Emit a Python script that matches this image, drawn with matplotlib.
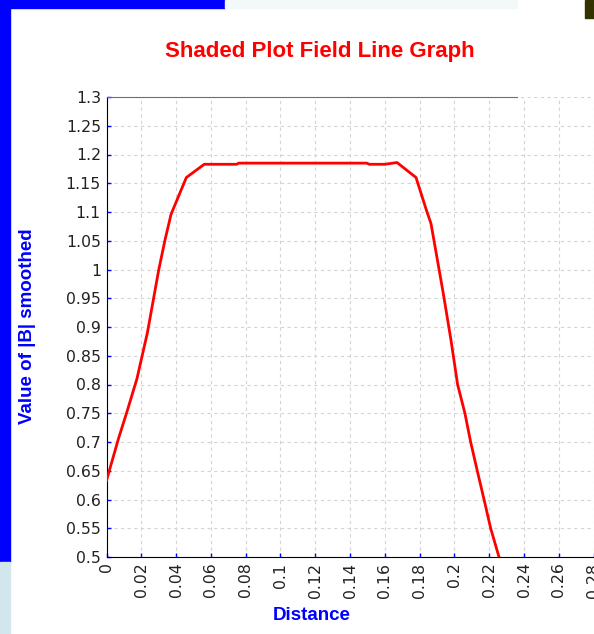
import matplotlib
matplotlib.use('Agg')
import matplotlib.pyplot as plt
import numpy as np
from matplotlib.patches import Rectangle

# Data
distance = [0.0, 0.0068, 0.0120, 0.0175, 0.0235, 0.0300, 0.0336, 0.0371,
            0.0459, 0.0562, 0.0748, 0.0760, 0.1496, 0.1510, 0.1600, 0.1670,
            0.1779, 0.1840, 0.1865, 0.1936, 0.1980, 0.2018, 0.2060, 0.2093,
            0.2131, 0.2170, 0.2208, 0.2256]
b_smoothed = [0.633, 0.705, 0.755, 0.810, 0.890, 0.999, 1.051, 1.096,
              1.160, 1.183, 1.183, 1.185, 1.185, 1.183, 1.183, 1.186,
              1.160, 1.102, 1.080, 0.958, 0.877, 0.800, 0.750, 0.700,
              0.650, 0.600, 0.550, 0.500]

x_ticks = np.round(np.arange(0, 0.29, 0.02), 2)
y_ticks = np.round(np.arange(0.5, 1.31, 0.05), 2)
x_labels = ['0' if v == 0 else f'{v:g}' for v in x_ticks]
y_labels = ['1' if v == 1 else f'{v:g}' for v in y_ticks]

plt.rcParams['font.family'] = ['Liberation Sans', 'DejaVu Sans']

fig = plt.figure(figsize=(5.94, 6.34), dpi=100)
fig.patch.set_facecolor('white')

# screenshot remnants around the chart
fig.patches.append(Rectangle((0, 1 - 562 / 634), 10 / 594, 562 / 634,
                             transform=fig.transFigure, color='#0000ff', zorder=0))
fig.patches.append(Rectangle((0, 0), 10 / 594, 72 / 634,
                             transform=fig.transFigure, color='#d2e6ec', zorder=0))
fig.patches.append(Rectangle((0, 1 - 8 / 634), 225 / 594, 8 / 634,
                             transform=fig.transFigure, color='#0000ff', zorder=0))
fig.patches.append(Rectangle((225 / 594, 1 - 8 / 634), 292 / 594, 8 / 634,
                             transform=fig.transFigure, color='#f3f8f9', zorder=0))
fig.patches.append(Rectangle((585 / 594, 1 - 18 / 634), 9 / 594, 18 / 634,
                             transform=fig.transFigure, color='#333300', zorder=0))

ax = fig.add_axes([106.5 / 594, 1 - 557 / 634, 1 - 106.5 / 594, 460 / 634])
ax.plot(distance, b_smoothed, color='#ff0000', linewidth=2, zorder=3,
        solid_joinstyle='round')

ax.set_xlim(0, 0.2802)
ax.set_ylim(0.5, 1.3)
ax.set_xticks(x_ticks)
ax.set_xticklabels(x_labels, rotation=90, va='top', family='DejaVu Sans')
ax.set_yticks(y_ticks)
ax.set_yticklabels(y_labels, family='DejaVu Sans')
ax.tick_params(direction='in', length=3, width=1, color='#0000ff',
               labelsize=11.3, labelcolor='#222222', pad=4)

ax.grid(True, color='#d4d4d4', linestyle=(0, (3, 3)), linewidth=0.8)
ax.set_axisbelow(True)

ax.spines['right'].set_visible(False)
ax.spines['top'].set_color('#707070')
ax.spines['top'].set_bounds(0, (517 - 106.5) / 1740)
ax.spines['left'].set_color('black')
ax.spines['bottom'].set_color('black')

ax.set_xlabel('Distance', color='#0000ff', fontsize=13.5, fontweight='bold')
ax.xaxis.set_label_coords((312 - 106.5) / 487.5, -(607 - 557) / 460)
ax.set_ylabel('Value of |B| smoothed', color='#0000ff', fontsize=13.5,
              fontweight='bold')
ax.yaxis.set_label_coords(-(106.5 - 36) / 487.5, (557 - 326) / 460)

fig.text(320 / 594, 1 - 51 / 634, 'Shaded Plot Field Line Graph',
         color='#ff0000', fontsize=16, fontweight='bold',
         ha='center', va='center')

fig.savefig('out.png', dpi=100)
